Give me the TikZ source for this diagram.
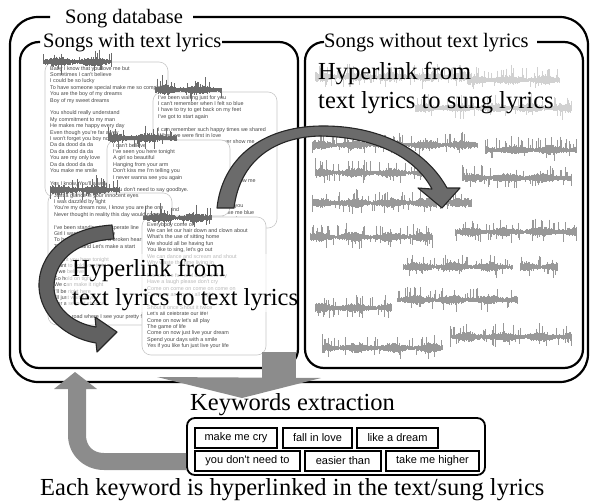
\documentclass[tikz,border=0pt]{standalone}
\usepackage{fontspec}
\setmainfont{Liberation Serif}
\newfontfamily\lyricfont{Liberation Sans}

\tikzset{
  frame/.style={line width=2.2pt, line join=round},
  title/.style={anchor=base west, inner sep=0pt, font=\fontsize{20.5}{24}\selectfont},
  bigtext/.style={anchor=base west, inner sep=0pt, font=\fontsize{24.5}{29}\selectfont},
  card/.style={draw=black!22, line width=0.6pt, fill=white, rounded corners=9pt},
  lyric/.style={anchor=base west, inner sep=0pt, text=black!72,
                font=\lyricfont\fontsize{5.4}{6.4}\selectfont},
  kw/.style={draw, line width=1.3pt, inner sep=0pt,
             font=\lyricfont\fontsize{11}{13}\selectfont},
  bandarrow/.style={fill=black!62, draw=black!85, line width=1.1pt, line join=round},
  flowarrow/.style={fill=black!45, draw=none},
}

% an audio waveform strip: left x, right x, centre y, colour
\newcommand\wavestrip[4]{%
  \pgfmathtruncatemacro\wsteps{(#2-#1)/0.9}%
  \foreach \k in {0,...,\wsteps}{%
    \pgfmathsetmacro\wx{#1+\k*0.9}%
    \pgfmathsetmacro\wenv{0.8+0.3*sin(\k*9+#1*7)}%
    \pgfmathsetmacro\wup{\wenv*(2.6+2.6*rnd)+(rnd>0.82)*(3+7*rnd)}%
    \pgfmathsetmacro\wdn{\wenv*(2.4+2.4*rnd)+(rnd>0.88)*(2+6*rnd)}%
    \draw[#4, line width=0.9pt] (\wx,#3-\wup) -- (\wx,#3+\wdn);%
  }%
}

% a lyrics card: name, x1, y1, x2, y2, text x, first baseline, lines
\newcommand\lyriccard[8]{%
  \draw[card] (#2,#3) rectangle (#4,#5);%
  \foreach [count=\n from 0] \lyr in {#8}
    \node[lyric] (#1-\n) at (#6,#7+6.4*\n) {\lyr};%
}

\begin{document}
\begin{tikzpicture}[x=1pt,y=-1pt]
\pgfmathsetseed{11}
\useasboundingbox (0,0) rectangle (590,501);

% ---- database frame and the two collections ----
\draw[frame, rounded corners=28pt] (193,17) -- (588,17) -- (588,382) -- (10,382) -- (10,17) -- (50,17);
\node[title] (dbtitle) at (65,23) {Song database};
\draw[frame, rounded corners=19pt] (222,42) -- (298,42) -- (298,368) -- (20,368) -- (20,42) -- (40,42);
\node[title] (texttitle) at (43,47) {Songs with text lyrics};
\draw[frame, rounded corners=19pt] (537,42) -- (583,42) -- (583,368) -- (305,368) -- (305,42) -- (324,42);
\node[title] (sungtitle) at (324,47) {Songs without text lyrics};

% ---- lyrics cards ----
\lyriccard{cardA}{45}{62}{168}{197}{50}{70}{%
{Baby I know that you love me but},{Sometimes I can't believe},{I could be so lucky},
{To have someone special make me so complete},{You are the boy of my dreams},
{Boy of my sweet dreams},{},{You should really understand},{My commitment to my man},
{He makes me happy every day},{Even though you're far away},
{I won't forget you boy no matter what},{Da da dood da da},{Da da dood da da},
{You are my only love},{Da da dood da da},{You make me smile},{},
{Yes I know, You'll always be mine}}
\wavestrip{43}{112}{62}{black!58}

\lyriccard{cardB}{153}{92}{277}{228}{158}{99}{%
{I've been waiting just for you},{I can't remember when I felt so blue},
{I have to try to get back on my feet},{I've got to start again},{},
{I can remember such happy times we shared},{When we were first in love},
{Why is it now you never, never show me},{Now I'm all alone},{},{},
{Now I think of all the times we shared},{},{Why is it you just never want to show me},
{},{},{},{I'm going round and round over you},{Every time I see you, you make me blue},
{I never ever want this love to end}}
\wavestrip{155}{222}{90}{black!58}

\lyriccard{cardC}{107}{140}{230}{216}{113}{147}{%
{I can't believe},{I've seen you here tonight},{A girl so beautiful},
{Hanging from your arm},{Don't kiss me I'm telling you},{I never wanna see you again},{},
{You don't need to say goodbye.},{},{Girl I think of you always},{You are always on my mind}}
\wavestrip{108}{177}{138}{black!58}

\lyriccard{cardD}{48}{193}{172}{325}{54}{197}{%
{Just a glance in your innocent eyes},{I was dazzled by light},
{You're my dream now, I know you are the one},{Never thought in reality this day would come},{},
{I've been standing in desperate line},{Girl I want you to be mine},
{To heal the wounds of a broken heart},{Take your hand Let's make a start},{},
{I want you here tonight},{Want to hold you tight},{If we believe},{So hold on tight},
{We can make it right},{I'll be right here},{I'll just wait for you},{For a second chance},{},
{On the road where I see your pretty face}}
\wavestrip{50}{120}{190}{black!58}

\lyriccard{cardE}{142}{217}{266}{355}{147}{226}{%
{Everybody come on},{We can let our hair down and clown about},{What's the use of sitting home},
{We should all be having fun},{You like to sing, let's go out},{We can dance and scream and shout},
{Why waste the time living in},{},{Life can be fun and laugh and cry},{Have a laugh please don't cry},
{Come on come on come on come on},{Come on and party all night},{},{Shout it once Shout it twice},
{Let's all celebrate our life!},{Come on now let's all play},{The game of life},
{Come on now just live your dream},{Spend your days with a smile},
{Yes if you like fun just live your life}}
\wavestrip{143}{212}{218}{black!58}

% label over the text collection
\fill[white, opacity=0.62] (66,254) rectangle (296,312);
\node[bigtext] (linkA1) at (72,276) {Hyperlink from};
\node[bigtext] (linkA2) at (72,305) {text lyrics to text lyrics};

% ---- sung-lyrics collection: waveforms ----
\wavestrip{315}{472}{77}{black!18}
\wavestrip{467}{560}{80}{black!18}
\wavestrip{415}{572}{108}{black!18}
\wavestrip{312}{478}{145}{black!40}
\wavestrip{485}{577}{150}{black!40}
\wavestrip{315}{422}{173}{black!40}
\wavestrip{462}{572}{178}{black!40}
\wavestrip{312}{472}{203}{black!40}
\wavestrip{310}{433}{237}{black!40}
\wavestrip{455}{577}{232}{black!40}
\wavestrip{403}{513}{267}{black!40}
\wavestrip{520}{558}{267}{black!40}
\wavestrip{315}{392}{308}{black!40}
\wavestrip{397}{518}{300}{black!40}
\wavestrip{322}{443}{348}{black!40}
\wavestrip{450}{572}{337}{black!40}
\node[bigtext] (linkB1) at (318,79) {Hyperlink from};
\node[bigtext] (linkB2) at (318,108) {text lyrics to sung lyrics};

% ---- hyperlink arrows ----
% text lyrics -> text lyrics
\draw[bandarrow] (112,225) .. controls (65,228) and (38,255) .. (39,287)
  .. controls (40,315) and (65,338) .. (96,343) -- (97,352) -- (117,332) -- (95,317)
  -- (96,327) .. controls (70,323) and (54,305) .. (54,287)
  .. controls (54,262) and (75,241) .. (114,239) -- cycle;
% text lyrics -> sung lyrics
\draw[bandarrow, fill=black!58] (217,208) .. controls (222,160) and (260,127) .. (320,126)
  .. controls (380,125) and (426,150) .. (447,188) -- (460,188) -- (442,208) -- (418,188)
  -- (432,189) .. controls (415,157) and (375,137) .. (320,136)
  .. controls (275,137) and (240,160) .. (234,208) -- cycle;

% ---- keyword extraction ----
\fill[flowarrow] (262,352) rectangle (296,378);
\fill[flowarrow] (157,377) -- (321,378) -- (242,398) -- cycle;
\node[anchor=base west, inner sep=0pt, font=\fontsize{24.5}{29}\selectfont] (extract) at (190,410) {Keywords extraction};

\node[draw, line width=1.8pt, rounded corners=8pt, minimum width=298pt, minimum height=57pt] (kwbox) at (336,446.5) {};
\node[kw, minimum width=82pt, minimum height=20pt] (kw1) at (236,438) {make me cry};
\node[kw, minimum width=69pt, minimum height=20pt] (kw2) at (317.5,438) {fall in love};
\node[kw, minimum width=81pt, minimum height=20pt] (kw3) at (397.5,438) {like a dream};
\node[kw, minimum width=105pt, minimum height=20pt] (kw4) at (247.5,461) {you don't need to};
\node[kw, minimum width=76pt, minimum height=20pt] (kw5) at (343,461) {easier than};
\node[kw, minimum width=93pt, minimum height=20pt] (kw6) at (432.5,461) {take me higher};

% keywords are linked back into the database
\fill[flowarrow] (kwbox.west |- 0,453) -- (104,453) .. controls (93,453) and (86,446) .. (86,435)
  -- (86,389) -- (97,389) -- (75,372) -- (54,389) -- (68,389) -- (68,435)
  .. controls (68,455) and (84,470) .. (104,470) -- (kwbox.west |- 0,470) -- cycle;

\node[anchor=base west, inner sep=0pt, font=\fontsize{24.5}{29}\selectfont] (caption) at (40,495) {Each keyword is hyperlinked in the text/sung lyrics};
\end{tikzpicture}
\end{document}
